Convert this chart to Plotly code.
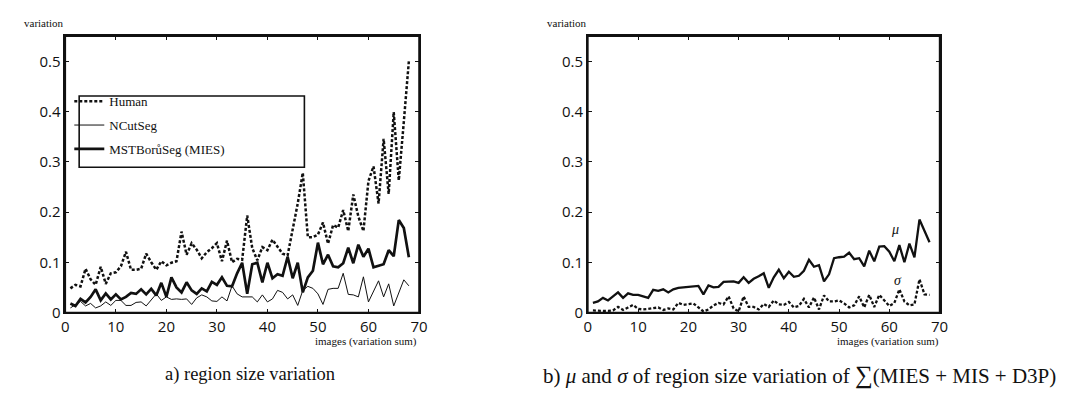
import plotly.graph_objects as go

W, H = 1067, 398

images = list(range(1, 69))

human = [0.048, 0.055, 0.052, 0.087, 0.066, 0.055, 0.091, 0.057, 0.078, 0.080,
         0.092, 0.121, 0.085, 0.085, 0.087, 0.117, 0.100, 0.085, 0.102, 0.094,
         0.099, 0.102, 0.161, 0.115, 0.138, 0.125, 0.108, 0.120, 0.128, 0.138,
         0.102, 0.143, 0.100, 0.107, 0.105, 0.193, 0.128, 0.104, 0.130, 0.124,
         0.145, 0.130, 0.117, 0.114, 0.165, 0.217, 0.278, 0.150, 0.150, 0.155,
         0.179, 0.137, 0.174, 0.169, 0.204, 0.162, 0.235, 0.191, 0.162, 0.262,
         0.291, 0.217, 0.346, 0.236, 0.399, 0.263, 0.380, 0.501]

ncut = [0.009, 0.016, 0.022, 0.013, 0.018, 0.009, 0.013, 0.021, 0.014, 0.024,
        0.024, 0.014, 0.014, 0.020, 0.021, 0.013, 0.024, 0.037, 0.024, 0.031,
        0.026, 0.027, 0.026, 0.027, 0.016, 0.029, 0.035, 0.031, 0.023, 0.022,
        0.031, 0.023, 0.053, 0.037, 0.031, 0.031, 0.031, 0.021, 0.035, 0.021,
        0.027, 0.044, 0.040, 0.027, 0.035, 0.014, 0.044, 0.052, 0.048, 0.037,
        0.016, 0.046, 0.048, 0.048, 0.078, 0.036, 0.035, 0.031, 0.071, 0.021,
        0.041, 0.063, 0.031, 0.057, 0.013, 0.040, 0.065, 0.053]

mies = [0.018, 0.013, 0.027, 0.020, 0.031, 0.046, 0.024, 0.038, 0.026, 0.036,
        0.026, 0.031, 0.039, 0.037, 0.046, 0.036, 0.047, 0.034, 0.059, 0.031,
        0.070, 0.050, 0.040, 0.060, 0.044, 0.037, 0.048, 0.042, 0.061, 0.055,
        0.070, 0.053, 0.052, 0.078, 0.099, 0.037, 0.096, 0.099, 0.060, 0.099,
        0.068, 0.076, 0.073, 0.111, 0.068, 0.099, 0.040, 0.070, 0.083, 0.139,
        0.096, 0.115, 0.092, 0.090, 0.098, 0.129, 0.098, 0.135, 0.111, 0.127,
        0.090, 0.093, 0.096, 0.124, 0.112, 0.184, 0.168, 0.110]

mu = [0.019, 0.022, 0.029, 0.024, 0.032, 0.040, 0.029, 0.038, 0.035, 0.035,
      0.032, 0.029, 0.045, 0.043, 0.046, 0.040, 0.046, 0.049, 0.050, 0.051,
      0.052, 0.053, 0.036, 0.054, 0.050, 0.051, 0.061, 0.062, 0.062, 0.059,
      0.070, 0.059, 0.067, 0.072, 0.078, 0.049, 0.070, 0.085, 0.068, 0.081,
      0.071, 0.073, 0.083, 0.105, 0.091, 0.094, 0.062, 0.076, 0.108, 0.110,
      0.111, 0.119, 0.106, 0.108, 0.092, 0.123, 0.102, 0.131, 0.132, 0.121,
      0.102, 0.134, 0.100, 0.137, 0.110, 0.185, 0.162, 0.140]

sigma = [0.004, 0.003, 0.003, 0.003, 0.004, 0.011, 0.005, 0.010, 0.015, 0.007,
         0.006, 0.007, 0.008, 0.010, 0.005, 0.008, 0.006, 0.019, 0.015, 0.017,
         0.018, 0.010, 0.002, 0.006, 0.014, 0.019, 0.016, 0.032, 0.008, 0.002,
         0.032, 0.011, 0.011, 0.006, 0.017, 0.011, 0.024, 0.016, 0.015, 0.021,
         0.010, 0.013, 0.027, 0.010, 0.030, 0.006, 0.034, 0.022, 0.022, 0.024,
         0.018, 0.010, 0.014, 0.032, 0.010, 0.035, 0.011, 0.035, 0.024, 0.013,
         0.019, 0.046, 0.022, 0.014, 0.016, 0.066, 0.036, 0.035]

x_ticks = [0, 10, 20, 30, 40, 50, 60, 70]
y_ticks = [0, 0.1, 0.2, 0.3, 0.4, 0.5]
y_tick_text = ["0", "0.1", "0.2", "0.3", "0.4", "0.5"]


def px(x):
    return x / W


def py(y):
    return 1 - y / H


INK = "#111111"
SERIF = "Liberation Serif"
SANS = "Open Sans"

fig = go.Figure()

fig.add_trace(go.Scatter(x=images, y=human, mode="lines", name="Human", legendgroup="a",
                         line=dict(color=INK, width=2.5, dash="3px,2px"),
                         xaxis="x", yaxis="y"))
fig.add_trace(go.Scatter(x=images, y=ncut, mode="lines", name="NCutSeg", legendgroup="b",
                         line=dict(color=INK, width=1.0),
                         xaxis="x", yaxis="y"))
fig.add_trace(go.Scatter(x=images, y=mies, mode="lines", name="MSTBorůSeg (MIES)", legendgroup="c",
                         line=dict(color=INK, width=2.7),
                         xaxis="x", yaxis="y"))
fig.add_trace(go.Scatter(x=images, y=mu, mode="lines", name="μ", showlegend=False,
                         line=dict(color=INK, width=2.3),
                         xaxis="x2", yaxis="y2"))
fig.add_trace(go.Scatter(x=images, y=sigma, mode="lines", name="σ", showlegend=False,
                         line=dict(color=INK, width=2.3, dash="3px,2px"),
                         xaxis="x2", yaxis="y2"))

axis_common = dict(
    showline=True, linecolor=INK, linewidth=1.5, mirror="ticks",
    ticks="inside", ticklen=4, tickwidth=1, tickcolor=INK,
    showgrid=False, zeroline=False,
    tickfont=dict(family=SANS, size=15, color="#111"),
)

xa = dict(axis_common, range=[0, 70], tickvals=x_ticks, ticktext=[str(v) for v in x_ticks])
ya = dict(axis_common, range=[0, 0.55], tickvals=y_ticks, ticktext=y_tick_text)

fig.update_layout(
    width=W, height=H,
    margin=dict(l=0, r=0, t=0, b=0),
    paper_bgcolor="white", plot_bgcolor="white",
    showlegend=True,
    xaxis=dict(xa, domain=[px(54), px(412)], anchor="y"),
    yaxis=dict(ya, domain=[py(311.5), py(29)], anchor="x"),
    xaxis2=dict(xa, domain=[px(583), px(939)], anchor="y2"),
    yaxis2=dict(ya, domain=[py(311.5), py(29)], anchor="x2"),
    legend=dict(x=px(58), y=py(80), xanchor="left", yanchor="top",
                bgcolor="rgba(0,0,0,0)", borderwidth=0,
                font=dict(family=SERIF, size=13, color=INK),
                tracegroupgap=4, itemwidth=30),
)

# plot frames and legend frame
for xr, yr in (("x", "y"), ("x2", "y2")):
    fig.add_shape(type="rect", xref=xr + " domain", yref=yr + " domain",
                  x0=0, x1=1, y0=0, y1=1,
                  line=dict(color=INK, width=1.5), fillcolor="rgba(0,0,0,0)")
fig.add_shape(type="rect", xref="paper", yref="paper",
              x0=px(68), x1=px(296), y0=py(163), y1=py(90),
              line=dict(color=INK, width=1.6), fillcolor="rgba(0,0,0,0)")

annos = []
for xr in (55, 584):
    annos.append(dict(text="variation", x=px(xr), y=py(15), xref="paper", yref="paper",
                      xanchor="right", yanchor="middle", showarrow=False,
                      font=dict(family=SERIF, size=11, color=INK)))
for xr in (412, 940):
    annos.append(dict(text="images (variation sum)", x=px(xr), y=py(341), xref="paper", yref="paper",
                      xanchor="right", yanchor="middle", showarrow=False,
                      font=dict(family=SERIF, size=11, color=INK)))
annos.append(dict(text="a) region size variation", x=px(241), y=py(375), xref="paper", yref="paper",
                  xanchor="center", yanchor="middle", showarrow=False,
                  font=dict(family=SERIF, size=18.5, color=INK)))
annos.append(dict(text="b) <i>μ</i> and <i>σ</i> of region size variation of "
                       "<span style='font-size:25px'>∑</span>(MIES + MIS + D3P)",
                  x=px(797), y=py(375), xref="paper", yref="paper",
                  xanchor="center", yanchor="middle", showarrow=False,
                  font=dict(family=SERIF, size=21, color=INK)))
annos.append(dict(text="<i>μ</i>", x=61.2, y=0.166, xref="x2", yref="y2", showarrow=False,
                  font=dict(family=SERIF, size=14, color=INK)))
annos.append(dict(text="<i>σ</i>", x=61.7, y=0.064, xref="x2", yref="y2", showarrow=False,
                  font=dict(family=SERIF, size=14, color=INK)))

fig.update_layout(annotations=annos)

fig.write_html("out.html")
